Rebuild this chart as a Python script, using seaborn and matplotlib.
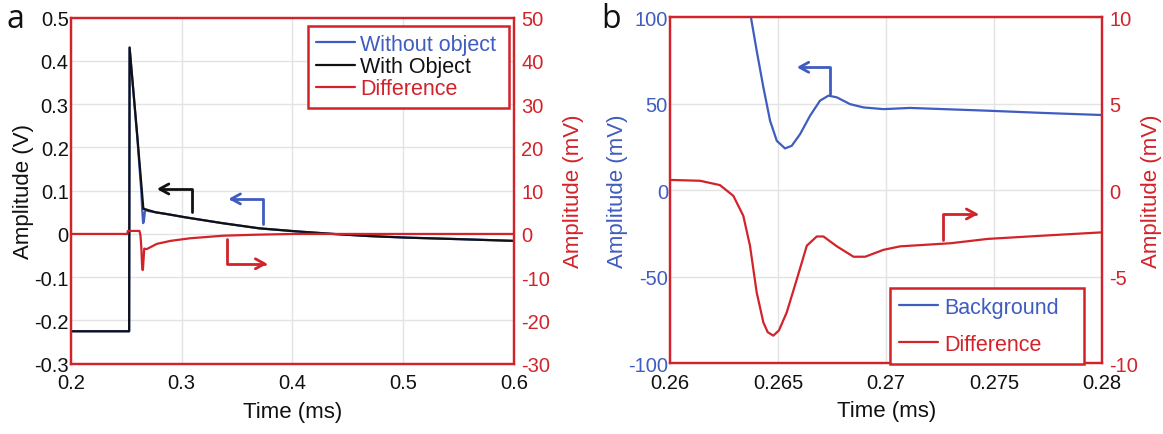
import numpy as np
import pandas as pd
import matplotlib
matplotlib.use("Agg")
import matplotlib.pyplot as plt
from matplotlib.lines import Line2D
import seaborn as sns

# ---------------------------------------------------------------- data
# (a) full echo, amplitude in V (left) and difference in mV (right)
time_a_without = [0.200, 0.2527, 0.2531, 0.2600, 0.2636, 0.2644, 0.2653,
                  0.2660, 0.2669, 0.2674, 0.2700, 0.2767, 0.2867, 0.3033,
                  0.3367, 0.3700, 0.4033, 0.4367, 0.4700, 0.5033, 0.5500, 0.6000]
amp_a_without = [-0.225, -0.225, 0.431, 0.224, 0.100, 0.060, 0.025,
                 0.030, 0.052, 0.055, 0.053, 0.050, 0.046, 0.0385,
                 0.025, 0.013, 0.006, 0.000, -0.005, -0.0085, -0.012, -0.016]

time_a_with = [0.200, 0.2527, 0.2531, 0.2600, 0.2652, 0.2655, 0.2662,
               0.2700, 0.2767, 0.2867, 0.3033, 0.3367, 0.3700, 0.4033, 0.4367,
               0.4700, 0.5033, 0.5500, 0.6000]
amp_a_with = [-0.225, -0.225, 0.431, 0.228, 0.068, 0.058, 0.058,
              0.055, 0.050, 0.046, 0.0385, 0.025, 0.013, 0.006, 0.000,
              -0.005, -0.0085, -0.012, -0.016]

time_a_diff = [0.200, 0.2510, 0.2515, 0.2620, 0.2629, 0.2637, 0.2643, 0.2647,
               0.2651, 0.2654, 0.2659, 0.2663, 0.2686, 0.2776, 0.2900, 0.3076,
               0.3377, 0.3678, 0.4000, 0.6000]
diff_a = [0.0, 0.0, 0.7, 0.7, -0.3, -3.2, -7.0, -8.3, -8.3, -7.1, -5.1, -3.4,
          -3.5, -2.3, -1.6, -1.0, -0.4, -0.17, 0.0, 0.0]

# (b) zoom on the reflection, background and difference in mV
time_b_bg = [0.2632, 0.26373, 0.26401, 0.26432, 0.26463, 0.26494, 0.26532,
             0.26563, 0.26602, 0.26648, 0.26694, 0.26733, 0.26772, 0.26833,
             0.26895, 0.26988, 0.27111, 0.2747, 0.27728, 0.2800]
background_b = [128, 101, 80.7, 59.5, 40.2, 28.6, 24.2, 25.7, 32.5, 43.1, 51.8,
                54.7, 53.7, 49.8, 47.9, 46.9, 47.6, 46.0, 44.7, 43.5]

time_b_diff = [0.2600, 0.26139, 0.26231, 0.26293, 0.26339, 0.2637, 0.26401,
               0.26432, 0.26452, 0.26478, 0.26504, 0.2654, 0.26587, 0.26633,
               0.26679, 0.2671, 0.26772, 0.26849, 0.26903, 0.26988, 0.27065,
               0.27298, 0.2747, 0.27728, 0.2800]
diff_b = [0.6, 0.55, 0.30, -0.32, -1.47, -3.2, -5.9, -7.64, -8.2, -8.4, -8.1,
          -7.06, -5.13, -3.2, -2.67, -2.67, -3.24, -3.84, -3.84, -3.44, -3.24,
          -3.06, -2.81, -2.62, -2.43]

xticks_a = [0.2, 0.3, 0.4, 0.5, 0.6]
xticklabels_a = ["0.2", "0.3", "0.4", "0.5", "0.6"]
yticks_a = [-0.3, -0.2, -0.1, 0, 0.1, 0.2, 0.3, 0.4, 0.5]
yticklabels_a = ["-0.3", "-0.2", "-0.1", "0", "0.1", "0.2", "0.3", "0.4", "0.5"]
y2ticks_a = [-30, -20, -10, 0, 10, 20, 30, 40, 50]

xticks_b = [0.26, 0.265, 0.27, 0.275, 0.28]
xticklabels_b = ["0.26", "0.265", "0.27", "0.275", "0.28"]
yticks_b = [-100, -50, 0, 50, 100]
y2ticks_b = [-10, -5, 0, 5, 10]

# ---------------------------------------------------------------- style
sns.set_theme(style="white")
plt.rcParams["font.family"] = ["Liberation Sans", "DejaVu Sans"]

BLUE = "#3f5cc0"
RED = "#d2232a"
BLACK = "#111111"
GRID = "#e3e3e3"
LW = 1.6
TICK_FS = 14.5
LABEL_FS = 16
LEG_FS = 15.5

fig = plt.figure(figsize=(11.63, 4.35), dpi=100)
ax_a = fig.add_axes([0.0608, 0.1616, 0.3814, 0.7954])
ax_b = fig.add_axes([0.5761, 0.1625, 0.3717, 0.7955])


def style_axes(ax, ax2, left_color):
    for a in (ax, ax2):
        for sp in a.spines.values():
            sp.set_color(RED)
            sp.set_linewidth(1.6)
        a.tick_params(length=0)
    ax.grid(True, color=GRID, lw=1.0)
    ax.set_axisbelow(True)
    ax.tick_params(axis="x", colors=BLACK, labelsize=TICK_FS, pad=7)
    ax.tick_params(axis="y", colors=left_color, labelsize=TICK_FS, pad=1.5)
    ax2.tick_params(axis="y", colors=RED, labelsize=TICK_FS, pad=5)
    ax2.grid(False)


def corner_arrow(ax, start, tip, color, up=True):
    ax.annotate("", xy=tip, xytext=start,
                arrowprops=dict(arrowstyle="->,head_length=0.55,head_width=0.3",
                                color=color, lw=2.0,
                                connectionstyle="angle,angleA=%d,angleB=0,rad=0"
                                % (90 if up else -90),
                                shrinkA=0, shrinkB=0))


def color_legend(leg, colors):
    leg.get_frame().set_linewidth(1.8)
    for txt, c in zip(leg.get_texts(), colors):
        txt.set_color(c)


# ---------------------------------------------------------------- panel a
df_wo = pd.DataFrame({"t": time_a_without, "v": amp_a_without})
df_w = pd.DataFrame({"t": time_a_with, "v": amp_a_with})
df_da = pd.DataFrame({"t": time_a_diff, "v": diff_a})

ax_a2 = ax_a.twinx()
sns.lineplot(data=df_wo, x="t", y="v", ax=ax_a, color=BLUE, lw=LW,
             estimator=None, sort=False)
sns.lineplot(data=df_w, x="t", y="v", ax=ax_a, color=BLACK, lw=LW,
             estimator=None, sort=False)
sns.lineplot(data=df_da, x="t", y="v", ax=ax_a2, color=RED, lw=LW,
             estimator=None, sort=False)

ax_a.set_xlim(0.2, 0.6)
ax_a.set_ylim(-0.3, 0.5)
ax_a2.set_ylim(-30, 50)
ax_a.set_xticks(xticks_a, xticklabels_a)
ax_a.set_yticks(yticks_a, yticklabels_a)
ax_a2.set_yticks(y2ticks_a, [str(v) for v in y2ticks_a])
style_axes(ax_a, ax_a2, BLACK)
ax_a.set_xlabel("Time (ms)", fontsize=LABEL_FS, color=BLACK, labelpad=6)
ax_a.set_ylabel("Amplitude (V)", fontsize=LABEL_FS, color=BLACK, labelpad=0)
ax_a2.set_ylabel("Amplitude (mV)", fontsize=LABEL_FS, color=RED, labelpad=9)

corner_arrow(ax_a, (0.3091, 0.050), (0.2776, 0.104), BLACK)
corner_arrow(ax_a, (0.3737, 0.023), (0.3422, 0.081), BLUE)
corner_arrow(ax_a2, (0.3407, -1.2), (0.3774, -6.9), RED, up=False)

handles_a = [Line2D([], [], color=BLUE, lw=LW),
             Line2D([], [], color=BLACK, lw=LW),
             Line2D([], [], color=RED, lw=LW)]
leg_a = ax_a2.legend(handles_a, ["Without object", "With Object", "Difference"],
                     loc="upper left", bbox_to_anchor=(0.535, 0.0, 0.453, 0.977),
                     mode="expand", borderaxespad=0, fontsize=LEG_FS,
                     fancybox=False, framealpha=1, edgecolor=RED,
                     handlelength=1.8, handletextpad=0.25, labelspacing=0.06,
                     borderpad=0.38)
color_legend(leg_a, [BLUE, BLACK, RED])

# ---------------------------------------------------------------- panel b
df_bg = pd.DataFrame({"t": time_b_bg, "v": background_b})
df_db = pd.DataFrame({"t": time_b_diff, "v": diff_b})

ax_b2 = ax_b.twinx()
sns.lineplot(data=df_bg, x="t", y="v", ax=ax_b, color=BLUE, lw=LW,
             estimator=None, sort=False)
sns.lineplot(data=df_db, x="t", y="v", ax=ax_b2, color=RED, lw=LW,
             estimator=None, sort=False)

ax_b.set_xlim(0.26, 0.28)
ax_b.set_ylim(-100, 100)
ax_b2.set_ylim(-10, 10)
ax_b.set_xticks(xticks_b, xticklabels_b)
ax_b.set_yticks(yticks_b, [str(v) for v in yticks_b])
ax_b2.set_yticks(y2ticks_b, [str(v) for v in y2ticks_b])
style_axes(ax_b, ax_b2, BLUE)
ax_b.set_xlabel("Time (ms)", fontsize=LABEL_FS, color=BLACK, labelpad=6)
ax_b.set_ylabel("Amplitude (mV)", fontsize=LABEL_FS, color=BLUE, labelpad=0)
ax_b2.set_ylabel("Amplitude (mV)", fontsize=LABEL_FS, color=RED, labelpad=2)

corner_arrow(ax_b, (0.26741, 55.6), (0.26586, 71.1), BLUE)
corner_arrow(ax_b2, (0.27264, -2.85), (0.27427, -1.37), RED)

handles_b = [Line2D([], [], color=BLUE, lw=LW),
             Line2D([], [], color=RED, lw=LW)]
leg_b = ax_b2.legend(handles_b, ["Background", "Difference"],
                     loc="lower left", bbox_to_anchor=(0.509, -0.002, 0.449, 1.0),
                     mode="expand", borderaxespad=0, fontsize=LEG_FS,
                     fancybox=False, framealpha=1, edgecolor=RED,
                     handlelength=1.8, handletextpad=0.3, labelspacing=0.75,
                     borderpad=0.42)
color_legend(leg_b, [BLUE, RED])

# panel letters
fig.text(0.006, 0.955, "a", fontsize=23, color=BLACK, va="center",
         family=["Open Sans", "DejaVu Sans"])
fig.text(0.517, 0.955, "b", fontsize=23, color=BLACK, va="center",
         family=["Open Sans", "DejaVu Sans"])

fig.savefig("out.png", dpi=100, facecolor="white")
